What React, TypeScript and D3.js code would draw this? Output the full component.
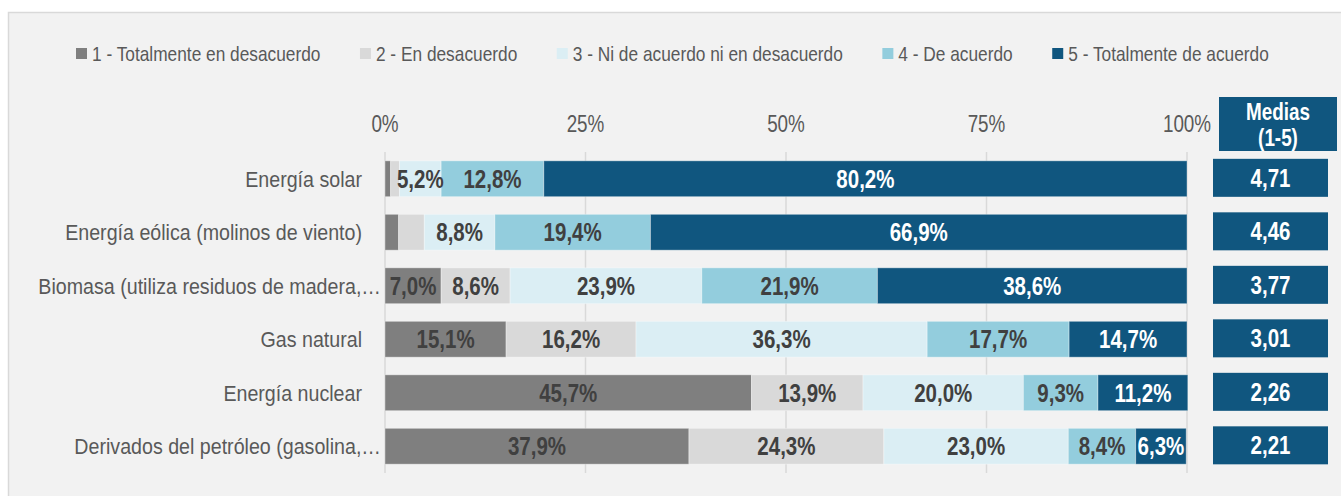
import React, { useEffect, useRef } from "react";
import * as d3 from "d3";

// categories and values (percent of answers per level)
const categories = [
  "Energía solar",
  "Energía eólica (molinos de viento)",
  "Biomasa (utiliza residuos de madera,…",
  "Gas natural",
  "Energía nuclear",
  "Derivados del petróleo (gasolina,…",
];
const seriesNames = [
  "1 - Totalmente en desacuerdo",
  "2 - En desacuerdo",
  "3 - Ni de acuerdo ni en desacuerdo",
  "4 - De acuerdo",
  "5 - Totalmente de acuerdo",
];
const level1 = [0.7, 1.7, 7.0, 15.1, 45.7, 37.9];
const level2 = [1.1, 3.2, 8.6, 16.2, 13.9, 24.3];
const level3 = [5.2, 8.8, 23.9, 36.3, 20.0, 23.0];
const level4 = [12.8, 19.4, 21.9, 17.7, 9.3, 8.4];
const level5 = [80.2, 66.9, 38.6, 14.7, 11.2, 6.3];
const medias = ["4,71", "4,46", "3,77", "3,01", "2,26", "2,21"];
const ticks = [0, 25, 50, 75, 100];

const colors = ["#7f7f7f", "#d9d9d9", "#dbeef4", "#93cddd", "#10567f"];
const labelColors = ["#404040", "#404040", "#404040", "#404040", "#ffffff"];

// no Arial Narrow available: squeeze Liberation Sans horizontally
const FONT = "'Liberation Sans', Arial, sans-serif";
const SQ = 0.82;

function narrowText(g: any, x: number, y: number, txt: string, size: number, opts: any = {}) {
  const sq = opts.sq || SQ;
  return g.append("text")
    .attr("transform", `translate(${x},${y}) scale(${sq},1)`)
    .attr("text-anchor", opts.anchor || "start")
    .attr("dy", opts.dy || null)
    .attr("font-family", FONT)
    .attr("font-weight", opts.bold ? "bold" : "normal")
    .attr("font-size", size)
    .attr("fill", opts.fill || "#595959")
    .text(txt);
}

export default function App() {
  const ref = useRef<SVGSVGElement>(null);

  useEffect(() => {
    const svg = d3.select(ref.current);
    svg.selectAll("*").remove();

    const W = 1341, H = 496;
    const x = d3.scaleLinear().domain([0, 100]).range([385, 1187]);
    const y = d3.scaleBand().domain(categories).range([152, 473]).paddingInner(0.33).paddingOuter(0.165);

    // panel
    svg.append("rect").attr("width", W).attr("height", H).attr("fill", "#ffffff");
    svg.append("rect").attr("x", 8.5).attr("y", 12.5).attr("width", W).attr("height", H)
      .attr("fill", "#f2f2f2").attr("stroke", "#d9d9d9").attr("stroke-width", 1.5);

    // legend
    const legend = svg.append("g");
    let lx = 76;
    seriesNames.forEach((name, i) => {
      legend.append("rect").attr("x", lx).attr("y", 48).attr("width", 11).attr("height", 11).attr("fill", colors[i]);
      const t = narrowText(legend, lx + 16, 61, name, 21.1);
      const len = (t.node() as SVGTextElement).getComputedTextLength() * SQ;
      lx += 16 + len + 39.5;
    });

    // grid + ticks
    svg.append("g").selectAll("line").data(ticks).join("line")
      .attr("x1", d => x(d)).attr("x2", d => x(d)).attr("y1", 152).attr("y2", 473)
      .attr("stroke", "#d9d9d9").attr("stroke-width", 1.5);
    const tg = svg.append("g");
    ticks.forEach(d => narrowText(tg, x(d), 132, d + "%", 23, { anchor: "middle" }));

    // category labels (truncated ones run up to the axis, like Excel does)
    const cg = svg.append("g");
    categories.forEach(c => {
      const ax = c.endsWith("…") ? 381 : 362;
      narrowText(cg, ax, y(c)! + y.bandwidth() / 2, c, 22.5, { anchor: "end", dy: "0.36em", sq: 0.873 });
    });

    // stacked bars
    const table = categories.map((c, i) => ({
      cat: c, v: [level1[i], level2[i], level3[i], level4[i], level5[i]],
    }));
    const bars = svg.append("g");
    const labels = svg.append("g");
    table.forEach(row => {
      let acc = 0;
      row.v.forEach((v, k) => {
        const x0 = x(acc), x1 = x(acc + v);
        acc += v;
        bars.append("rect").attr("x", x0).attr("y", y(row.cat)!).attr("width", x1 - x0).attr("height", y.bandwidth())
          .attr("fill", colors[k]).attr("stroke", "#ffffff").attr("stroke-opacity", 0.35).attr("stroke-width", 1);
        if (v >= 5) {
          narrowText(labels, (x0 + x1) / 2, y(row.cat)! + y.bandwidth() / 2, v.toFixed(1).replace(".", ",") + "%", 25,
            { anchor: "middle", dy: "0.36em", bold: true, fill: labelColors[k] });
        }
      });
    });

    // medias column
    const mg = svg.append("g");
    mg.append("rect").attr("x", 1219).attr("y", 97).attr("width", 118).attr("height", 54).attr("fill", "#10567f");
    narrowText(mg, 1278, 120, "Medias", 23, { anchor: "middle", bold: true, fill: "#fff" });
    narrowText(mg, 1278, 146, "(1-5)", 23, { anchor: "middle", bold: true, fill: "#fff" });
    categories.forEach((c, i) => {
      const by = y(c)! - 2;
      mg.append("rect").attr("x", 1213).attr("y", by).attr("width", 115).attr("height", 38).attr("fill", "#10567f");
      narrowText(mg, 1270.5, by + 19, medias[i], 25, { anchor: "middle", dy: "0.36em", bold: true, fill: "#fff" });
    });
  }, []);

  return (
    <svg ref={ref} width={1341} height={496} style={{ position: "absolute", left: 0, top: 0 }} />
  );
}
